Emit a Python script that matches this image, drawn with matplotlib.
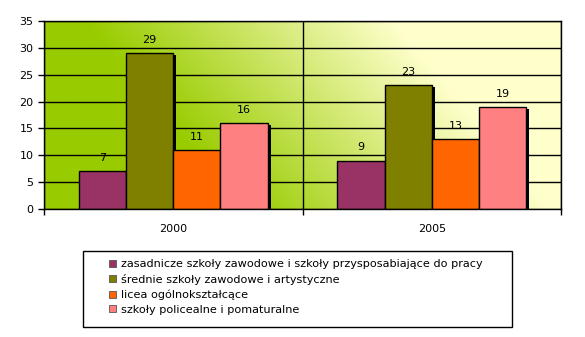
import numpy as np
import matplotlib
matplotlib.use("Agg")
import matplotlib.pyplot as plt
from matplotlib.patches import Patch, Rectangle
from matplotlib.transforms import ScaledTranslation
from matplotlib.colors import to_rgb

years = ["2000", "2005"]
series_names = [
    "zasadnicze szkoły zawodowe i szkoły przysposabiające do pracy",
    "średnie szkoły zawodowe i artystyczne",
    "licea ogólnokształcące",
    "szkoły policealne i pomaturalne",
]
zasadnicze = [7, 9]
srednie = [29, 23]
licea = [11, 13]
policealne = [16, 19]
series_values = [zasadnicze, srednie, licea, policealne]
colors = ["#993366", "#808000", "#FF6600", "#FF8080"]
yticks = [0, 5, 10, 15, 20, 25, 30, 35]

plt.rcParams['font.family'] = ['DejaVu Sans']
fig = plt.figure(figsize=(5.85, 3.37), dpi=100)
fig.patch.set_facecolor("white")
ax = fig.add_axes([44/585, 1-209/337, (561-44)/585, (209-21)/337])

# gradient background
nx, ny = 300, 150
u = np.linspace(0, 1, nx)[None, :]
v = np.linspace(0, 1, ny)[:, None]
s = u + 0.3*v
t = np.clip((s - 0.38)/0.6, 0, 1)
c0 = np.array(to_rgb("#99CC00"))
c1 = np.array(to_rgb("#FFFFCC"))
img = c0[None, None, :]*(1-t[..., None]) + c1[None, None, :]*t[..., None]
ax.imshow(img, extent=[-0.5, 1.5, 0, 35], origin="lower", aspect="auto", zorder=0)

x = np.arange(len(years))
w = 0.1825
offsets = (np.arange(4) - 1.5) * w
shadow_tr = ax.transData + ScaledTranslation(3/100, -2/100, fig.dpi_scale_trans)
for i, (vals, col) in enumerate(zip(series_values, colors)):
    sh = ax.bar(x + offsets[i], vals, w, color="black", zorder=2 + i*0.1)
    for p in sh:
        p.set_transform(shadow_tr)
    bars = ax.bar(x + offsets[i], vals, w, color=col, edgecolor="black",
                  linewidth=1.0, zorder=3 + i*0.1, label=series_names[i])
    for xi, val in zip(x + offsets[i], vals):
        ax.annotate(str(val), (xi, val), xytext=(0, 6), textcoords="offset points",
                    ha="center", va="bottom", fontsize=8, zorder=5)

ax.set_xlim(-0.5, 1.5)
ax.set_ylim(0, 35)
ax.set_yticks(yticks)
ax.set_xticks([-0.5, 0.5, 1.5])
ax.set_xticklabels([])
ax.set_xticks(x, minor=True)
ax.set_xticklabels(years, minor=True)
ax.tick_params(axis="x", which="minor", length=0, labelsize=8, pad=11)
ax.tick_params(axis="x", which="major", length=4, direction="out", width=1)
ax.tick_params(axis="y", length=4, direction="out", labelsize=8, width=1)
ax.grid(True, which="major", axis="both", color="black", linewidth=1.0, zorder=1)
ax.set_axisbelow(False)
for gl in ax.get_xgridlines() + ax.get_ygridlines():
    gl.set_zorder(1)
for s_ in ax.spines.values():
    s_.set_color("black")
    s_.set_linewidth(1.0)
    s_.set_zorder(6)

# legend frame
fig.add_artist(Rectangle((83/585, 1-327/337), (512-83)/585, (327-251)/337,
                         transform=fig.transFigure, facecolor="white",
                         edgecolor="black", linewidth=1.0))
handles = [Patch(facecolor=c, edgecolor="#555555", linewidth=0.6) for c in colors]
leg = fig.legend(handles, series_names, loc="center left",
                 bbox_to_anchor=(109/585, 1-287/337),
                 borderaxespad=0, borderpad=0, fontsize=8.1, frameon=False,
                 handlelength=0.6, handleheight=0.6,
                 handletextpad=0.45, labelspacing=0.42)

fig.savefig("out.png", dpi=100)
